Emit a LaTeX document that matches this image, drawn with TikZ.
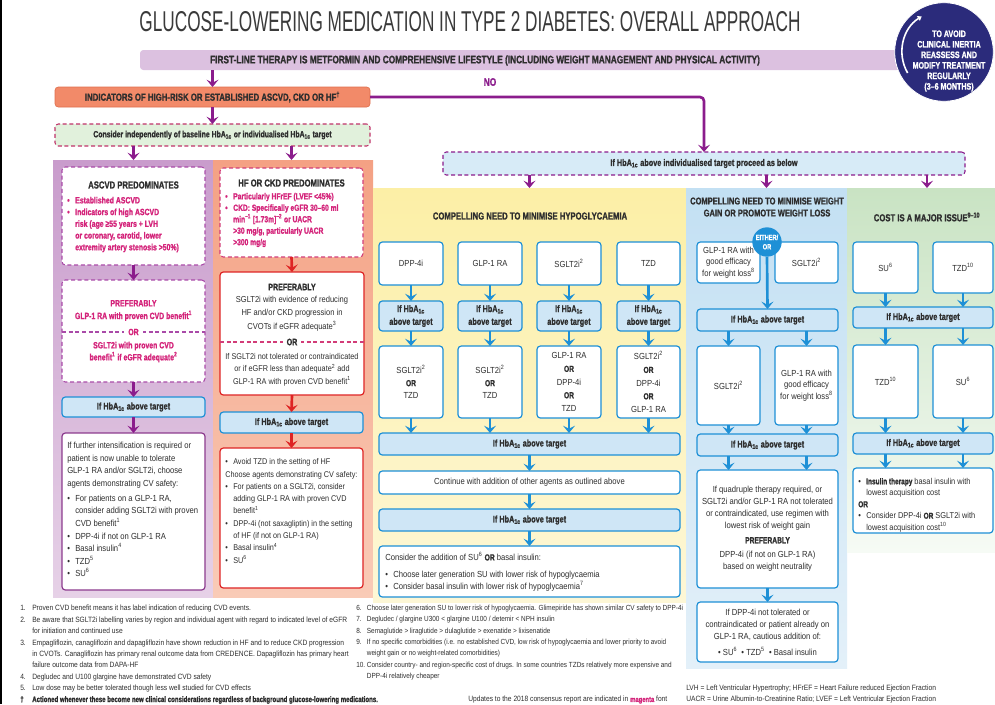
\documentclass[tikz,border=0pt]{standalone}
\usepackage{fontspec}
\setmainfont[FakeStretch=0.87,BoldFeatures={FakeStretch=0.76,FakeBold=1.2}]{Liberation Sans}
\newfontfamily\titlefont[FakeStretch=0.6]{Liberation Sans}
\usetikzlibrary{arrows.meta,fit,calc}
\definecolor{cdark}{HTML}{2E2E2E}
\definecolor{ctitle}{HTML}{3A3A3A}
\definecolor{cpurple}{HTML}{8B1C8C}
\definecolor{cmag}{HTML}{D4237A}
\definecolor{cblue}{HTML}{1E90D6}
\definecolor{cbluefill}{HTML}{CFE6F6}
\definecolor{cred}{HTML}{DE2424}
\definecolor{cnavy}{HTML}{2B2B7B}
\definecolor{clav}{HTML}{DCC1E0}
\definecolor{cind}{HTML}{F28A69}
\definecolor{cindB}{HTML}{E0704E}
\definecolor{cgreen}{HTML}{E1F1DC}
\definecolor{cdash}{HTML}{C0336A}
\definecolor{cindiv}{HTML}{D7EBF7}
\definecolor{cascB}{HTML}{A94AA8}
\definecolor{cascF}{HTML}{8C3B8E}
\definecolor{chfD}{HTML}{D23C78}
\definecolor{ascTop}{HTML}{C99CCC}
\definecolor{ascBot}{HTML}{E6D1E7}
\definecolor{hfTop}{HTML}{F4A184}
\definecolor{hfBot}{HTML}{F9CBB7}
\definecolor{hyTop}{HTML}{FCEFA6}
\definecolor{hyBot}{HTML}{FDF7D6}
\definecolor{wtTop}{HTML}{C3E0F3}
\definecolor{wtBot}{HTML}{E3F0F9}
\definecolor{coTop}{HTML}{C9E3C3}
\definecolor{coBot}{HTML}{F6FBF5}
\newcommand\bulx{\makebox[6pt][l]{•}}
\newcommand\indx{\hspace*{6pt}}
\newcommand\fnum[1]{\makebox[9pt][l]{#1}}
\newcommand\fnumb[1]{\makebox[8pt][l]{#1}}
\newcommand\hba{HbA\textsubscript{1c}}
% box with its text in a separate, centred node
\newcommand\bx[6]{\node[#1, fit={(#3)(#4)}] (#2) {};\node[#5] (#2t) at (#2.center) {#6};}
\tikzset{
  frame/.style={inner sep=0pt, outer sep=0pt, rounded corners=2.5pt, line width=0.9pt},
  wbox/.style={frame, draw=cblue, fill=white},
  hbox/.style={frame, draw=cblue, fill=cbluefill},
  panel/.style={inner sep=0pt, outer sep=0pt},
  dsh/.style={dash pattern=on 3pt off 2pt},
  arr/.style={line width=2pt, -{Stealth[width=9pt,length=5.5pt,inset=2.3pt]}},
  arrB/.style={arr, draw=cblue},
  arrP/.style={arr, draw=cpurple},
  arrR/.style={arr, draw=cred},
  bt/.style={inner sep=0pt, text=cdark, align=center, font=\fontsize{6.6}{9.4}\selectfont},
  hbt/.style={inner sep=0pt, text=cdark, align=center, font=\bfseries\fontsize{7.2}{9.6}\selectfont},
  hd/.style={inner sep=0pt, text=cdark, align=center, font=\bfseries\fontsize{7.6}{9}\selectfont},
  mag/.style={inner sep=0pt, text=cmag, align=left, font=\bfseries\fontsize{6.8}{8.8}\selectfont},
  magc/.style={inner sep=0pt, text=cmag, align=center, font=\bfseries\fontsize{6.8}{9.5}\selectfont},
  fnt/.style={inner sep=0pt, text=cdark, align=left, anchor=west, font=\fontsize{5.75}{8.55}\selectfont},
}
\begin{document}
\begin{tikzpicture}[x=0.75pt,y=-0.75pt]
\useasboundingbox (0,0) rectangle (995,704);
\fill[white] (0,0) rectangle (995,704);
\draw[black, line width=1.2pt] (0.8,0) -- (0.8,704);

% panels
\node[panel, fit={(53,160)(213,597)}, top color=ascTop, bottom color=ascBot] (ascpanel) {};
\node[panel, fit={(213,160)(373,597)}, top color=hfTop, bottom color=hfBot] (hfpanel) {};
\node[panel, fit={(373,188)(686,602)}, top color=hyTop, bottom color=hyBot] (hypanel) {};
\node[panel, fit={(686,188)(847,668)}, top color=wtTop, bottom color=wtBot] (wtpanel) {};
\node[panel, fit={(847,188)(995,552)}, top color=coTop, bottom color=coBot] (copanel) {};

% title
\node[inner sep=0pt, text=ctitle, font=\titlefont\fontsize{21.5}{24}\selectfont] (title) at (470,22) {GLUCOSE-LOWERING MEDICATION IN TYPE 2 DIABETES: OVERALL APPROACH};

% first line bar
\node[frame, fill=clav, fit={(140,50)(900,70)}] (firstline) {};
\node[hd, font=\bfseries\fontsize{8.2}{9}\selectfont] (firstlinetxt) at (485,60.5) {FIRST-LINE THERAPY IS METFORMIN AND COMPREHENSIVE LIFESTYLE (INCLUDING WEIGHT MANAGEMENT AND PHYSICAL ACTIVITY)};

% reminder circle
\node[circle, fill=cnavy, draw=white, line width=0.6pt, minimum size=74pt, inner sep=0pt] (remind) at (944,52) {};
\node[inner sep=0pt, text=white, align=center, font=\bfseries\fontsize{7}{7.9}\selectfont] (remindtxt) at (949,61) {TO AVOID\\CLINICAL INERTIA\\REASSESS AND\\MODIFY TREATMENT\\REGULARLY\\(3–6 MONTHS)};
\draw[white, line width=1.2pt, -{Triangle[width=4pt,length=3pt]}] ($(remind.center)+(150:42)$) arc[start angle=150, end angle=238, radius=42];

% indicators
\bx{frame, fill=cind, draw=cindB, line width=0.5pt}{ind}{55,87}{370,107}{hd, font=\bfseries\fontsize{7.7}{9}\selectfont}{INDICATORS OF HIGH-RISK OR ESTABLISHED ASCVD, CKD OR HF\textsuperscript{†}}
\node[inner sep=0pt, text=cpurple, font=\bfseries\fontsize{8.2}{9}\selectfont] (no) at (490,82) {NO};
\draw[arrP] (firstline.south -| ind.north) -- (ind.north);

\bx{frame, fill=cgreen, draw=cdash, dsh, line width=0.8pt}{consider}{55,124}{370,146}{hd, font=\bfseries\fontsize{6.8}{9}\selectfont}{Consider independently of baseline \hba{} or individualised \hba{} target}
\draw[arrP] (ind.south) -- (consider.north);

\bx{frame, fill=cindiv, draw=cpurple, dsh, line width=0.8pt}{indiv}{443,152}{965,175}{hbt}{If \hba{} above individualised target proceed as below}
\draw[arrP, rounded corners=3pt] (ind.east) -| (indiv.north);

% ================= ASCVD column
\node[frame, fill=white, draw=cascB, dsh, line width=0.8pt, fit={(62,167)(205,265)}] (ascbox) {};
\node[hd] (asctitle) at (133.5,185) {ASCVD PREDOMINATES};
\node[mag, anchor=west] (ascbul) at (67,224.5) {\bulx Established ASCVD\\\bulx Indicators of high ASCVD\\\indx risk (age ≥55 years + LVH\\\indx or coronary, carotid, lower\\\indx extremity artery stenosis >50\%)};
\draw[arrP] (consider.south -| ascbox.north) -- (ascbox.north |- ascpanel.north);

\node[frame, fill=white, draw=cascB, dsh, line width=0.8pt, fit={(62,280)(205,382)}] (ascpref) {};
\draw[arrP] (ascbox.south) -- (ascpref.north);
\node[magc] (ascpreftxt) at (133.5,310.5) {PREFERABLY\\GLP-1 RA with proven CVD benefit\textsuperscript{1}};
\draw[cascB, dsh, line width=0.8pt] (62,332) -- (205,332);
\node[magc, fill=white, inner xsep=3pt, inner ysep=1pt] (ascor) at (133.5,332) {OR};
\node[magc, font=\bfseries\fontsize{6.8}{9}\selectfont] (ascpreftxt2) at (133.5,352) {SGLT2i with proven CVD\\benefit\textsuperscript{1} if eGFR adequate\textsuperscript{2}};

\bx{hbox}{ascblue}{62,397}{205,417}{hbt}{If \hba{} above target}
\draw[arrP] (ascpref.south) -- (ascblue.north);

\node[frame, fill=white, draw=cascF, fit={(62,433)(205,590)}] (ascfin) {};
\draw[arrP] (ascblue.south) -- (ascfin.north);
\node[bt, anchor=west, align=left] (ascfintxt) at (67,509.5) {If further intensification is required or\\patient is now unable to tolerate\\GLP-1 RA and/or SGLT2i, choose\\agents demonstrating CV safety:\\[2pt]\bulx For patients on a GLP-1 RA,\\\indx consider adding SGLT2i with proven\\\indx CVD benefit\textsuperscript{1}\\\bulx DPP-4i if not on GLP-1 RA\\\bulx Basal insulin\textsuperscript{4}\\\bulx TZD\textsuperscript{5}\\\bulx SU\textsuperscript{6}};

% ================= HF column
\node[frame, fill=white, draw=chfD, dsh, line width=0.8pt, fit={(220,168)(363,257)}] (hfbox) {};
\node[hd] (hftitle) at (291.5,183) {HF OR CKD PREDOMINATES};
\node[mag, anchor=west, font=\bfseries\fontsize{6.6}{8.6}\selectfont] (hfbul) at (225,220) {\bulx Particularly HFrEF (LVEF <45\%)\\\bulx CKD: Specifically eGFR 30–60 ml\\\indx min\textsuperscript{–1} [1.73m]\textsuperscript{–2} or UACR\\\indx >30 mg/g, particularly UACR\\\indx >300 mg/g};
\draw[arrP] (consider.south -| hfbox.north) -- (hfbox.north |- hfpanel.north);

\node[frame, fill=white, draw=cred, fit={(220,272)(364,395)}] (hfpref) {};
\draw[arrR] (hfbox.south) -- (hfpref.north);
\node[hd, font=\bfseries\fontsize{7}{9}\selectfont] (hfpreft) at (292,287) {PREFERABLY};
\node[bt, font=\fontsize{6.5}{10}\selectfont] (hfpref1) at (292,313.5) {SGLT2i with evidence of reducing\\HF and/or CKD progression in\\CVOTs if eGFR adequate\textsuperscript{3}};
\draw[chfD, dsh, line width=0.8pt] (220,342) -- (364,342);
\node[hd, fill=white, inner xsep=3pt, inner ysep=1pt, font=\bfseries\fontsize{7}{9}\selectfont] (hfor) at (292,342) {OR};
\node[bt, font=\fontsize{6.3}{9.4}\selectfont] (hfpref2) at (292,369.5) {If SGLT2i not tolerated or contraindicated\\or if eGFR less than adequate\textsuperscript{2} add\\GLP-1 RA with proven CVD benefit\textsuperscript{1}};

\bx{hbox}{hfblue}{220,412}{363,433}{hbt}{If \hba{} above target}
\draw[arrR] (hfpref.south) -- (hfblue.north);
\node[frame, fill=white, draw=cred, fit={(220,448)(363,588)}] (hffin) {};
\draw[arrR] (hfblue.south) -- (hffin.north);
\node[bt, anchor=west, align=left, font=\fontsize{6.25}{9.2}\selectfont] (hffintxt) at (225,511) {\bulx Avoid TZD in the setting of HF\\Choose agents demonstrating CV safety:\\\bulx For patients on a SGLT2i, consider\\\indx adding GLP-1 RA with proven CVD\\\indx benefit\textsuperscript{1}\\\bulx DPP-4i (not saxagliptin) in the setting\\\indx of HF (if not on GLP-1 RA)\\\bulx Basal insulin\textsuperscript{4}\\\bulx SU\textsuperscript{6}};

% ================= Hypoglycaemia column
\draw[arrP] (indiv.south -| hypanel.north) -- (hypanel.north);
\node[hd] (hytitle) at (530,216) {COMPELLING NEED TO MINIMISE HYPOGLYCAEMIA};
\bx{wbox}{h1a}{379,242}{443,285}{bt}{DPP-4i}
\bx{wbox}{h2a}{458,242}{522,285}{bt}{GLP-1 RA}
\bx{wbox}{h3a}{537,242}{601,285}{bt}{SGLT2i\textsuperscript{2}}
\bx{wbox}{h4a}{617,242}{680,285}{bt}{TZD}
\bx{hbox}{h1b}{379,301}{443,331}{hbt}{If \hba\\above target}
\bx{hbox}{h2b}{458,301}{522,331}{hbt}{If \hba\\above target}
\bx{hbox}{h3b}{537,301}{601,331}{hbt}{If \hba\\above target}
\bx{hbox}{h4b}{617,301}{680,331}{hbt}{If \hba\\above target}
\bx{wbox}{h1c}{379,346}{443,418}{bt, font=\fontsize{6.6}{9.5}\selectfont}{SGLT2i\textsuperscript{2}\\\textbf{OR}\\TZD}
\bx{wbox}{h2c}{458,346}{522,418}{bt, font=\fontsize{6.6}{9.5}\selectfont}{SGLT2i\textsuperscript{2}\\\textbf{OR}\\TZD}
\bx{wbox}{h3c}{537,346}{601,418}{bt, font=\fontsize{6.6}{9.9}\selectfont}{GLP-1 RA\\\textbf{OR}\\DPP-4i\\\textbf{OR}\\TZD}
\bx{wbox}{h4c}{617,346}{680,418}{bt, font=\fontsize{6.6}{9.9}\selectfont}{SGLT2i\textsuperscript{2}\\\textbf{OR}\\DPP-4i\\\textbf{OR}\\GLP-1 RA}
\bx{hbox}{hw1}{379,433}{680,455}{hbt}{If \hba{} above target}
\foreach \n in {1,2,3,4} {
  \draw[arrB] (h\n a.south) -- (h\n b.north);
  \draw[arrB] (h\n b.south) -- (h\n c.north);
  \draw[arrB] (h\n c.south) -- (hw1.north -| h\n c.south);
}
\bx{wbox}{hcont}{379,471}{680,494}{bt}{Continue with addition of other agents as outlined above}
\bx{hbox}{hw2}{379,509}{680,531}{hbt}{If \hba{} above target}
\node[wbox, fit={(379,546)(680,597)}] (hlast) {};
\node[bt, anchor=west, align=left, font=\fontsize{6.6}{9}\selectfont] (hlasttxt) at (385,571.5) {Consider the addition of SU\textsuperscript{6} \textbf{OR} basal insulin:\\[3.5pt]\bulx Choose later generation SU with lower risk of hypoglycaemia\\\bulx Consider basal insulin with lower risk of hypoglycaemia\textsuperscript{7}};
\draw[arrB] (hw1.south) -- (hcont.north);
\draw[arrB] (hcont.south) -- (hw2.north);
\draw[arrB] (hw2.south) -- (hlast.north);

% ================= Weight column
\draw[arrP] (indiv.south -| wtpanel.north) -- (wtpanel.north);
\node[hd, font=\bfseries\fontsize{7.4}{9}\selectfont] (wttitle) at (767,207) {COMPELLING NEED TO MINIMISE WEIGHT\\GAIN OR PROMOTE WEIGHT LOSS};
\bx{wbox}{w1a}{697,242}{760,283}{bt, font=\fontsize{6.6}{8.8}\selectfont}{GLP-1 RA with\\good efficacy\\for weight loss\textsuperscript{8}}
\bx{wbox}{w2a}{775,242}{838,283}{bt}{SGLT2i\textsuperscript{2}}
\bx{hbox}{wb1}{697,309}{838,331}{hbt}{If \hba{} above target}
\node[circle, fill=cblue, minimum size=22pt, inner sep=0pt, text=white, align=center, font=\bfseries\fontsize{5.6}{7}\selectfont] (either) at (767,242) {EITHER/\\OR};
\draw[arrB] (either.south) -- (wb1.north);
\bx{wbox}{w1b}{697,346}{760,425}{bt}{SGLT2i\textsuperscript{2}}
\bx{wbox}{w2b}{775,346}{838,425}{bt, font=\fontsize{6.6}{8.8}\selectfont}{GLP-1 RA with\\good efficacy\\for weight loss\textsuperscript{8}}
\draw[arrB] (wb1.south -| w1b.north) -- (w1b.north);
\draw[arrB] (wb1.south -| w2b.north) -- (w2b.north);
\bx{hbox}{wb2}{697,434}{838,456}{hbt}{If \hba{} above target}
\draw[arrB] (w1b.south) -- (wb2.north -| w1b.south);
\draw[arrB] (w2b.south) -- (wb2.north -| w2b.south);
\bx{wbox}{wf1}{697,470}{838,588}{bt, font=\fontsize{6.6}{9}\selectfont}{If quadruple therapy required, or\\SGLT2i and/or GLP-1 RA not tolerated\\or contraindicated, use regimen with\\lowest risk of weight gain\\[2pt]\textbf{PREFERABLY}\\[2pt]DPP-4i (if not on GLP-1 RA)\\based on weight neutrality}
\draw[arrB] (wb2.south -| w1b.south) -- (wf1.north -| w1b.south);
\draw[arrB] (wb2.south -| w2b.south) -- (wf1.north -| w2b.south);
\bx{wbox}{wf2}{697,602}{838,662}{bt, font=\fontsize{6.6}{9}\selectfont}{If DPP-4i not tolerated or\\contraindicated or patient already on\\GLP-1 RA, cautious addition of:\\[3pt]• SU\textsuperscript{6} \ • TZD\textsuperscript{5} \ • Basal insulin}
\draw[arrB] (wf1.south) -- (wf2.north);

% ================= Cost column
\node[hd] (cotitle) at (927,217) {COST IS A MAJOR ISSUE\textsuperscript{9–10}};
\draw[arrP] (indiv.south -| cotitle.north) -- (cotitle.north |- copanel.north);
\bx{wbox}{c1a}{853,242}{918,293}{bt}{SU\textsuperscript{6}}
\bx{wbox}{c2a}{933,242}{993,293}{bt}{TZD\textsuperscript{10}}
\bx{hbox}{cb1}{853,307}{993,328}{hbt}{If \hba{} above target}
\bx{wbox}{c1b}{853,345}{918,418}{bt}{TZD\textsuperscript{10}}
\bx{wbox}{c2b}{933,345}{993,418}{bt}{SU\textsuperscript{6}}
\bx{hbox}{cb2}{853,433}{993,454}{hbt}{If \hba{} above target}
\node[wbox, fit={(853,468)(993,533)}] (cfin) {};
\node[bt, anchor=west, align=left, font=\fontsize{6.4}{8.6}\selectfont] (cfintxt) at (858,505) {\bulx\textbf{Insulin therapy} basal insulin with\\\indx lowest acquisition cost\\\textbf{OR}\\\bulx Consider DPP-4i \textbf{OR} SGLT2i with\\\indx lowest acquisition cost\textsuperscript{10}};
\foreach \n in {1,2} {
  \draw[arrB] (c\n a.south) -- (cb1.north -| c\n a.south);
  \draw[arrB] (cb1.south -| c\n b.north) -- (c\n b.north);
  \draw[arrB] (c\n b.south) -- (cb2.north -| c\n b.south);
  \draw[arrB] (cb2.south -| c\n b.south) -- (cfin.north -| c\n b.south);
}

% ================= Footnotes
\node[fnt] (fnleft) at (20,654.5) {\fnum{1.}Proven CVD benefit means it has label indication of reducing CVD events.\\
\fnum{2.}Be aware that SGLT2i labelling varies by region and individual agent with regard to indicated level of eGFR\\
\fnum{}for initiation and continued use\\
\fnum{3.}Empagliflozin, canagliflozin and dapagliflozin have shown reduction in HF and to reduce CKD progression\\
\fnum{}in CVOTs. Canagliflozin has primary renal outcome data from CREDENCE. Dapagliflozin has primary heart\\
\fnum{}failure outcome data from DAPA-HF\\
\fnum{4.}Degludec and U100 glargine have demonstrated CVD safety\\
\fnum{5.}Low dose may be better tolerated though less well studied for CVD effects\\
{\bfseries\fontsize{6}{8.55}\selectfont\fnum{†}Actioned whenever these become new clinical considerations regardless of background glucose-lowering medications.}};
\node[fnt, font=\fontsize{5.55}{8.55}\selectfont] (fnmid) at (356,642.5) {\fnumb{6.}Choose later generation SU to lower risk of hypoglycaemia. Glimepiride has shown similar CV safety to DPP-4i\\
\fnumb{7.}Degludec / glargine U300 < glargine U100 / detemir < NPH insulin\\
\fnumb{8.}Semaglutide > liraglutide > dulaglutide > exenatide > lixisenatide\\
\fnumb{9.}If no specific comorbidities (i.e. no established CVD, low risk of hypoglycaemia and lower priority to avoid\\
\fnumb{}weight gain or no weight-related comorbidities)\\
\fnumb{10.}Consider country- and region-specific cost of drugs. In some countries TZDs relatively more expensive and\\
\fnumb{}DPP-4i relatively cheaper};
\node[fnt] (fnupd) at (468,700) {Updates to the 2018 consensus report are indicated in \textcolor{cmag}{\textbf{magenta}} font};
\node[fnt] (fnabbr) at (686,694) {LVH = Left Ventricular Hypertrophy; HFrEF = Heart Failure reduced Ejection Fraction\\UACR = Urine Albumin-to-Creatinine Ratio; LVEF = Left Ventricular Ejection Fraction};
\end{tikzpicture}
\end{document}
